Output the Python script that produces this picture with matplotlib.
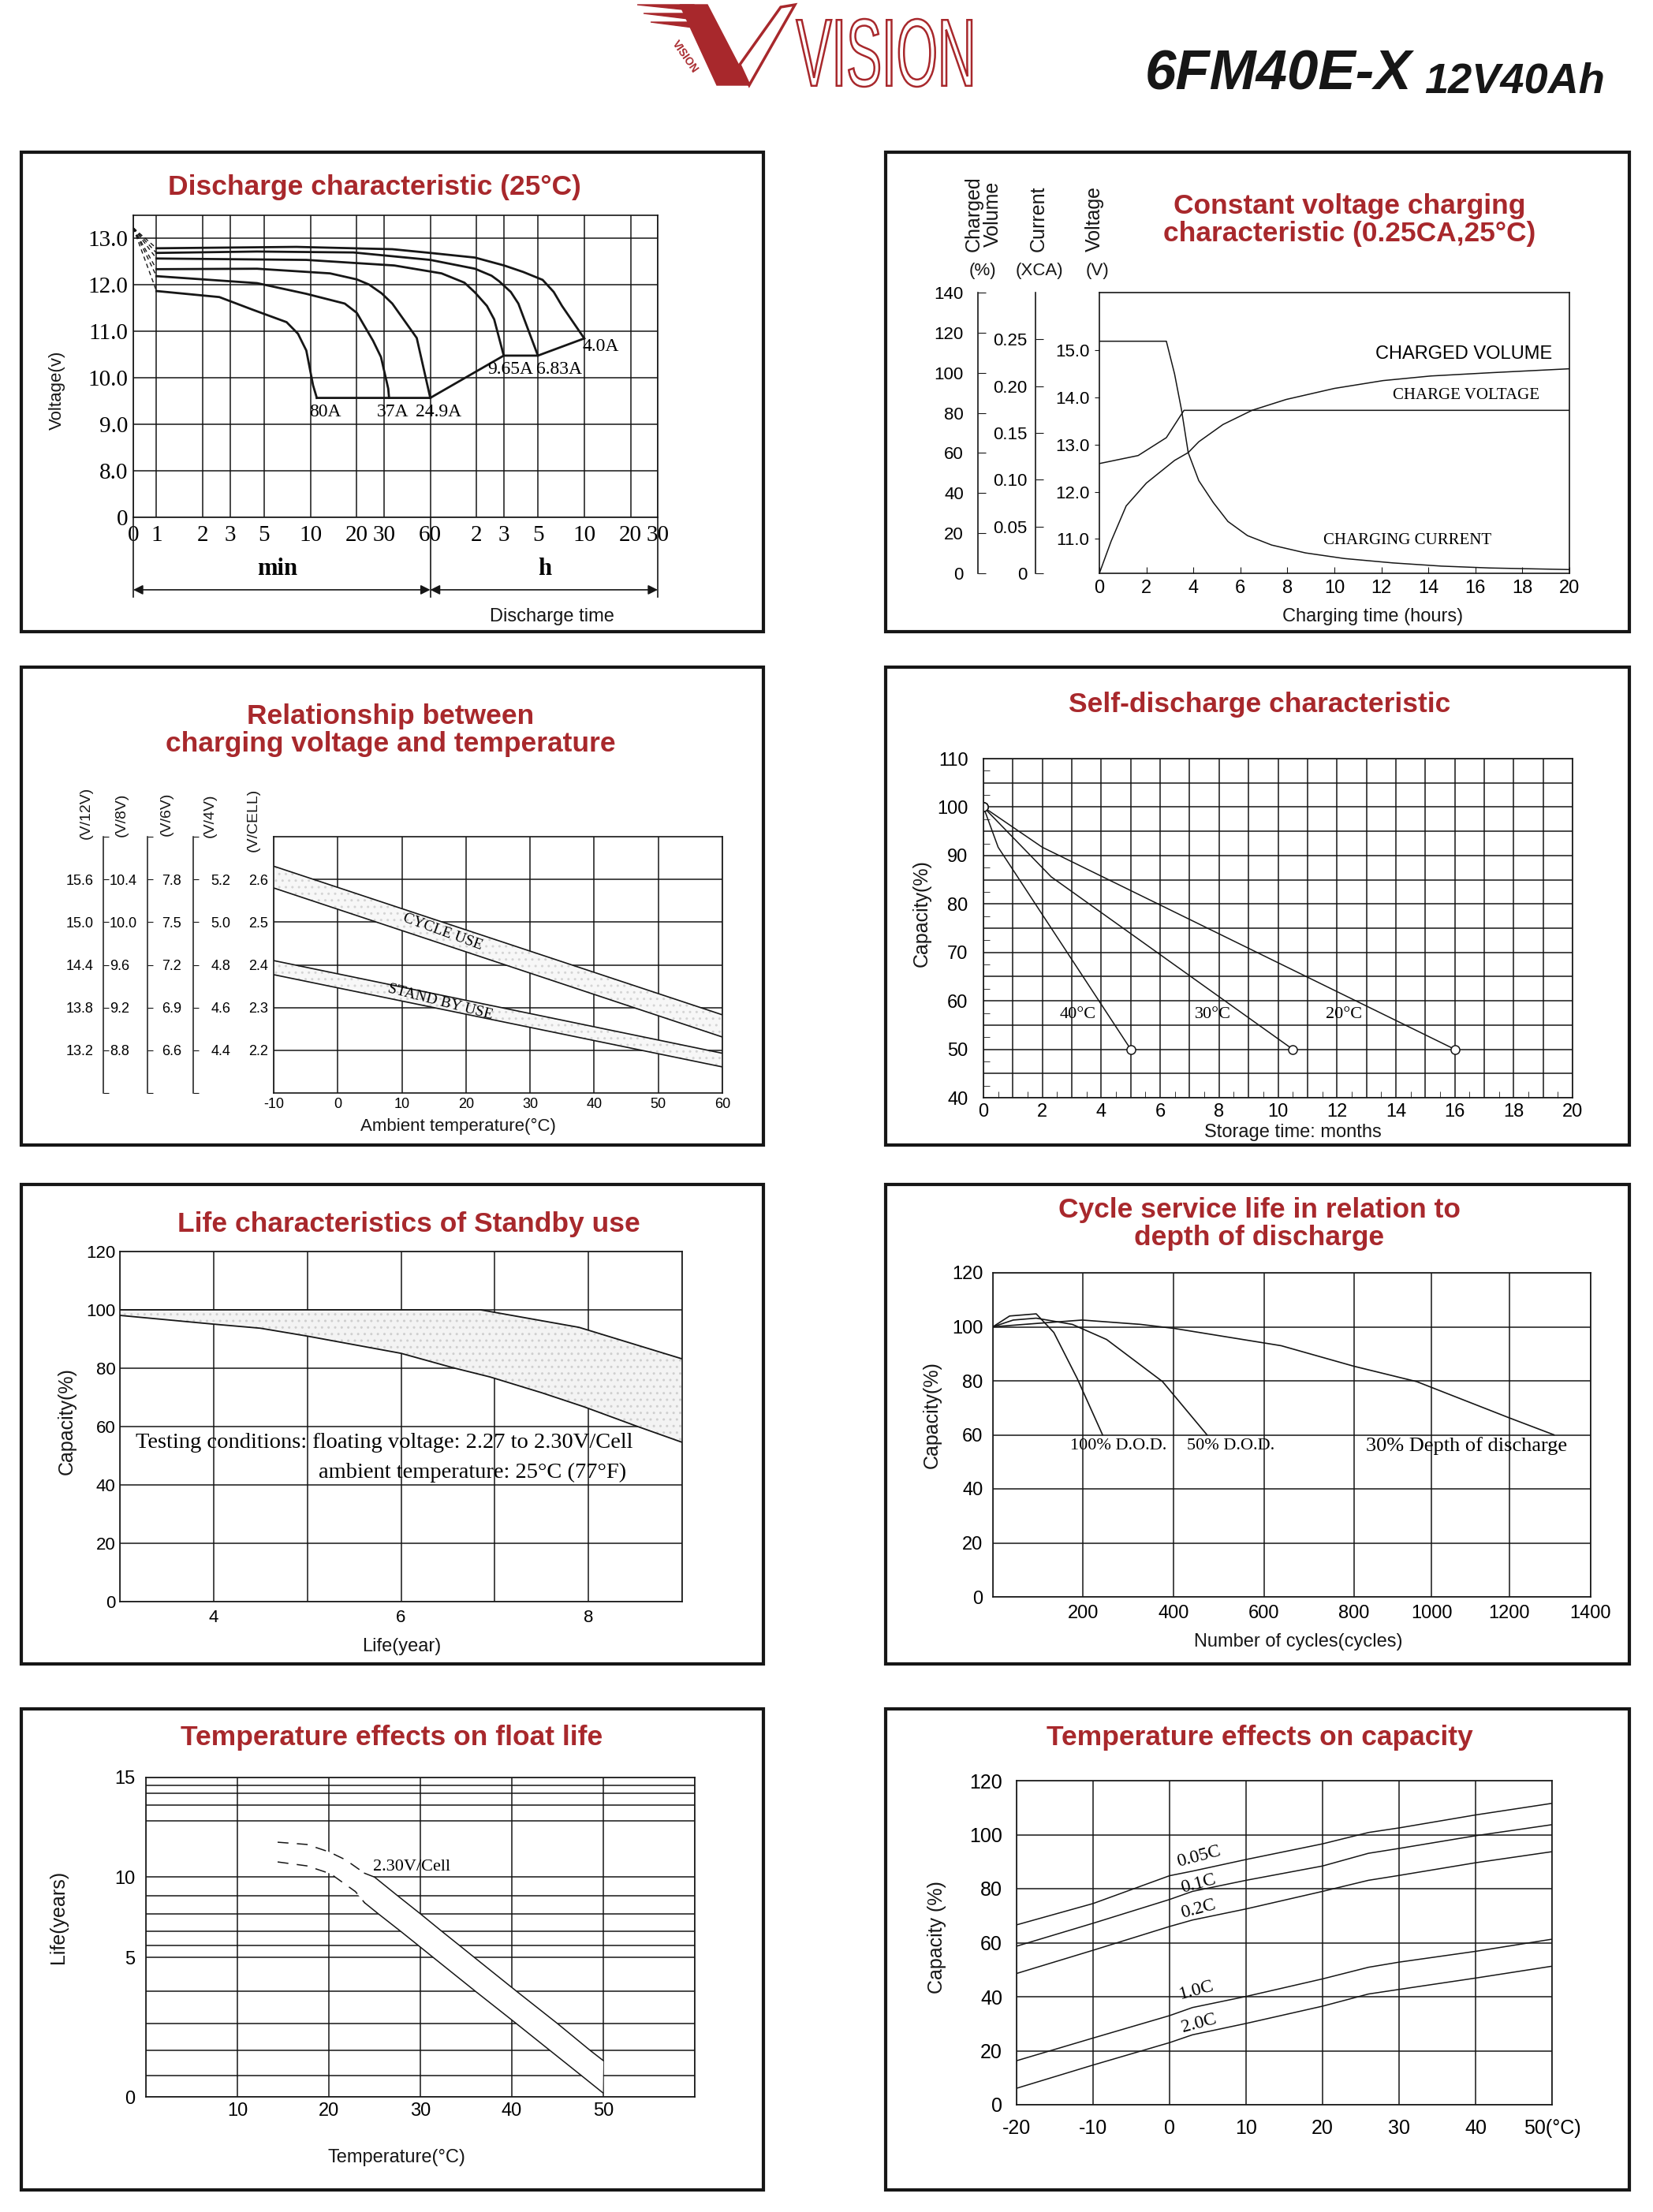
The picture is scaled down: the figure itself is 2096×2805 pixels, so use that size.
import numpy as np
import matplotlib
matplotlib.use('Agg')
import matplotlib.pyplot as plt
from matplotlib import font_manager
from matplotlib.patches import Rectangle, Polygon, PathPatch
from matplotlib.textpath import TextPath
from matplotlib.font_manager import FontProperties
from matplotlib.transforms import Affine2D

W, H = 2096, 2805
RED = '#a8282c'
INK = '#161616'
_fonts = {f.name for f in font_manager.fontManager.ttflist}
NARROW = 'Liberation Sans Narrow' if 'Liberation Sans Narrow' in _fonts else 'Liberation Sans'
SANS = 'Liberation Sans'
SERIF = 'Liberation Serif'
plt.rcParams['font.family'] = [NARROW, 'DejaVu Sans']
plt.rcParams['hatch.linewidth'] = 1.0
plt.rcParams['axes.unicode_minus'] = False

# ---------------- data ----------------
# discharge characteristic (time in minutes, voltage)
disc_names = ['80A', '37A', '24.9A', '9.65A', '6.83A', '4.0A']
disc_t = [
    [1, 2.56, 4.2, 7.0, 8.3, 9.4, 10.4, 11.0],
    [1, 4.5, 9.4, 16.7, 20, 22.3, 25.5, 28.7, 32.0, 32.4],
    [1, 4.5, 13.4, 20, 24, 29, 34, 49, 60],
    [1, 9.4, 35, 71, 100, 117, 140, 156, 180],
    [1, 4.5, 19, 60, 117, 150, 168, 200, 224, 300],
    [1, 8.1, 34, 60, 117, 181, 241, 322, 380, 430, 600],
]
disc_v = [
    [11.87, 11.74, 11.47, 11.2, 10.95, 10.59, 9.84, 9.57],
    [12.19, 12.04, 11.81, 11.6, 11.4, 11.13, 10.8, 10.45, 9.77, 9.57],
    [12.34, 12.35, 12.25, 12.12, 12.01, 11.82, 11.6, 10.86, 9.57],
    [12.57, 12.54, 12.42, 12.25, 12.05, 11.84, 11.55, 11.26, 10.48],
    [12.69, 12.72, 12.70, 12.54, 12.35, 12.2, 12.08, 11.85, 11.6, 10.48],
    [12.79, 12.82, 12.77, 12.69, 12.59, 12.42, 12.28, 12.11, 11.85, 11.55, 10.85],
]
disc_label_t = [12.5, 34.4, 68, 200, 410, 765]
disc_label_v = [9.26, 9.26, 9.26, 10.18, 10.18, 10.67]
end_t = [11.0, 60, 180, 300, 600]
end_v = [9.57, 9.57, 10.48, 10.48, 10.85]
disc_start_t, disc_start_v = 0.707, 13.23
disc_xtick_pos = [0.707, 1, 2, 3, 5, 10, 20, 30, 60, 120, 180, 300, 600, 1200, 1800]
disc_xtick_lab = ['0', '1', '2', '3', '5', '10', '20', '30', '60', '2', '3', '5', '10', '20', '30']
disc_ytick_pos = [0, 8, 9, 10, 11, 12, 13]
disc_ytick_lab = ['0', '8.0', '9.0', '10.0', '11.0', '12.0', '13.0']

# constant voltage charging
chg_cur_t = [0, 2.85, 3.2, 3.5, 3.78, 4.23, 4.85, 5.47, 6.3, 7.33, 8.77, 10.42, 12.49, 14.55, 16.6, 20]
chg_cur = [0.248, 0.248, 0.213, 0.174, 0.129, 0.099, 0.0755, 0.0554, 0.0403, 0.0302,
           0.0218, 0.0158, 0.0111, 0.0077, 0.0057, 0.004]
chg_volt_t = [0, 1.65, 2.85, 3.6, 20]
chg_volt = [12.6, 12.77, 13.15, 13.73, 13.73]
chg_vol_t = [0, 0.5, 1.14, 2.0, 3.2, 3.78, 4.23, 5.26, 6.5, 7.95, 10, 12.07, 14.1, 16.6, 20]
chg_vol = [0, 16, 33.6, 45, 56.3, 60.2, 65.6, 74.2, 81.3, 86.7, 92.2, 96.1, 98.4, 100, 102]

# charging voltage vs temperature (V/cell)
temp_x = [-10, 60]
cycle_hi = [2.631, 2.283]
cycle_lo = [2.580, 2.231]
stand_hi = [2.410, 2.193]
stand_lo = [2.377, 2.161]
cell_ticks = [2.2, 2.3, 2.4, 2.5, 2.6]
pack_mult = [6, 4, 3, 2]
pack_names = ['(V/12V)', '(V/8V)', '(V/6V)', '(V/4V)']

# self discharge
sd_names = ['40°C', '30°C', '20°C']
sd_t = [[0, 0.5, 5.0], [0, 2.3, 10.5], [0, 2.0, 16.0]]
sd_c = [[100, 91.7, 50], [100, 85.6, 50], [100, 91.7, 50]]
sd_label_t = [3.2, 7.8, 12.25]

# standby life
life_up_x = [3, 6.85, 7.9, 9]
life_up_y = [100, 100, 94, 83.2]
life_lo_x = [3, 4, 4.5, 5, 6, 6.55, 6.95, 7.5, 7.95, 8.5, 9]
life_lo_y = [98.1, 95.1, 93.7, 91, 85.1, 80.2, 77, 71.6, 66.8, 60.3, 54.6]

# cycle life
cyc_scale_vals = [0, 200, 400, 600, 800, 1000, 1200, 1400]
cyc_scale_pos = [0, 186, 372, 559, 744, 904, 1064, 1232]
dod_names = ['100% D.O.D.', '50% D.O.D.', '30% Depth of discharge']
dod_x = [[0, 37, 96, 135, 187, 243],
         [0, 45, 96, 176, 252, 376, 474],
         [0, 101, 198, 327, 402, 638, 800, 962, 1200, 1310]]
dod_y = [[100, 104.0, 104.8, 97.9, 80.8, 60],
         [100, 102.5, 103.2, 100.9, 95.3, 79.7, 60],
         [100, 101.3, 102.5, 100.9, 99.4, 93, 85.4, 79.7, 66.3, 60]]
dod_label_x = [171, 429, 831]
dod_label_size = [16, 16, 19]

# float life vs temperature
float_vals = list(range(16))
float_pos = [0, 67, 145, 230, 332, 438, 475, 521, 575, 632, 690, 867, 917, 953, 977, 1003]
up_dash_t = [14.4, 17.6, 20.0, 21.8, 23.9]
up_dash_y = [10.62, 10.58, 10.45, 10.31, 10.07]
up_solid_t = [23.9, 25, 27.5, 30, 32.3, 34.3, 35.9, 40.5, 45, 48.6, 50]
up_solid_y = [10.07, 10, 9, 8, 7, 6, 5, 4, 3, 2, 1.6]
lo_dash_t = [14.4, 17.6, 20.2, 20.7, 22.9, 23.9]
lo_dash_y = [10.27, 10.2, 10.06, 10.0, 9.22, 8.61]
lo_solid_t = [23.9, 25.4, 27.8, 29.8, 31.4, 36.0, 40.5, 44.2, 47.6, 49.95]
lo_solid_y = [8.61, 8, 7, 6, 5, 4, 3, 2, 1, 0.19]

# capacity vs temperature
cap_t = [-20, -10, 0, 3, 10, 20, 26, 30, 40, 50]
cap_names = ['0.05C', '0.1C', '0.2C', '1.0C', '2.0C']
cap_vals = [
    [66.6, 74.5, 84.8, 86.5, 90.8, 96.6, 100.8, 102.5, 107.3, 111.6],
    [58.7, 67.2, 76.0, 79.0, 83.1, 88.4, 93.1, 94.9, 99.6, 103.7],
    [48.6, 57.2, 66.0, 68.4, 72.5, 79.0, 83.1, 84.9, 89.6, 93.7],
    [16.3, 24.7, 33.0, 36.0, 40.1, 46.6, 50.9, 52.8, 56.8, 61.3],
    [6.1, 14.7, 23.0, 25.9, 30.1, 36.5, 41.0, 42.7, 46.9, 51.3],
]
cap_label_t = [3.8, 3.8, 3.8, 3.5, 3.8]
cap_label_y = [91.9, 81.9, 72.5, 42.4, 30.0]

# ---------------- helpers ----------------
fig = plt.figure(figsize=(W / 100, H / 100), dpi=100)


def px_axes(x0, y0, x1, y1):
    ax = fig.add_axes([x0 / W, 1 - y1 / H, (x1 - x0) / W, (y1 - y0) / H])
    for s in ax.spines.values():
        s.set_color(INK)
        s.set_linewidth(1.2)
    ax.set_axisbelow(True)
    return ax


def frame(x0, y0, x1, y1):
    fig.add_artist(Rectangle((x0 / W, 1 - y1 / H), (x1 - x0) / W, (y1 - y0) / H,
                             transform=fig.transFigure, fill=False, lw=3, ec=INK))


def ftext(x, y, s, **kw):
    kw.setdefault('ha', 'center')
    kw.setdefault('va', 'center')
    kw.setdefault('color', INK)
    fig.text(x / W, 1 - y / H, s, **kw)


def title(x, y, s):
    ftext(x, y, s, color=RED, fontsize=25.5, fontweight='bold', family=NARROW, linespacing=1.08)


def poly(pts, **kw):
    fig.add_artist(Polygon([(x / W, 1 - y / H) for x, y in pts], closed=True,
                           transform=fig.transFigure, **kw))


def grid(ax):
    ax.grid(True, color=INK, lw=1.1)


# ---------------- header ----------------
poly([(862, 6), (897, 6), (950, 108), (909, 108)], fc=RED, ec=RED)
poly([(808, 6), (880, 6), (884, 14)], fc=RED, ec=RED)
poly([(816, 17), (884, 17), (889, 26)], fc=RED, ec=RED)
poly([(825, 28), (889, 28), (894, 37)], fc=RED, ec=RED)
poly([(938, 82), (990, 9), (1008, 6), (950, 108)], fill=False, ec=RED, lw=2.5)
ftext(869, 72, 'VISION', rotation=-55, color=RED, fontsize=10, fontweight='bold', family=SANS)
tp = TextPath((0, 0), 'VISION', size=100, prop=FontProperties(family=NARROW))
ext = tp.get_extents()
tr = (Affine2D().translate(-ext.x0, -ext.y0)
      .scale((1232 - 1010) / ext.width / W, (110 - 24) / ext.height / H)
      .translate(1010 / W, 1 - 110 / H) + fig.transFigure)
fig.add_artist(PathPatch(tp, transform=tr, fc='white', ec=RED, lw=1.8))
ftext(1452, 114, '6FM40E-X', ha='left', va='baseline', fontsize=51, fontweight='bold',
      style='italic', family=SANS)
ftext(1806, 118, '12V40Ah', ha='left', va='baseline', fontsize=39, fontweight='bold',
      style='italic', family=SANS)

# ---------------- 1. discharge characteristic ----------------
frame(27, 193, 968, 801)
title(475, 238, 'Discharge characteristic (25°C)')
ax = px_axes(169, 273, 834, 656)
ax.set_xscale('log')
ax.set_yscale('function', functions=(lambda v: np.interp(v, [0, 8, 14], [0, 1, 7]),
                                     lambda p: np.interp(p, [0, 1, 7], [0, 8, 14])))
ax.set_xlim(disc_xtick_pos[0], disc_xtick_pos[-1])
ax.set_ylim(0, 13.5)
ax.set_xticks(disc_xtick_pos, disc_xtick_lab, fontfamily=SERIF, fontsize=21)
ax.set_xticks([], minor=True)
ax.set_yticks(disc_ytick_pos, disc_ytick_lab, fontfamily=SERIF, fontsize=21)
ax.set_yticks([], minor=True)
ax.tick_params(axis='both', length=0)
ax.tick_params(axis='x', pad=7)
ax.tick_params(axis='y', pad=5)
grid(ax)
for t, v in zip(disc_t, disc_v):
    ax.plot(t, v, color=INK, lw=2)
    ax.plot([disc_start_t, t[0]], [disc_start_v, v[0]], color=INK, lw=1.0, ls=(0, (4, 3)))
ax.plot(end_t, end_v, color=INK, lw=2)
for name, lt, lv in zip(disc_names, disc_label_t, disc_label_v):
    ax.text(lt, lv, name, fontfamily=SERIF, fontsize=17, ha='center', va='center')
xt = ax.get_xaxis_transform()
for t in [disc_xtick_pos[0], 60, disc_xtick_pos[-1]]:
    ax.plot([t, t], [0, -0.265], transform=xt, clip_on=False, color=INK, lw=1.2)
for a, b in [(disc_xtick_pos[0], 60), (60, disc_xtick_pos[-1])]:
    ax.annotate('', xy=(b, -0.24), xytext=(a, -0.24), xycoords=xt, textcoords=xt,
                arrowprops=dict(arrowstyle='<|-|>', color=INK, lw=1.2, mutation_scale=18,
                                shrinkA=0, shrinkB=0))
ax.text(6.1, -0.17, 'min', transform=xt, ha='center', va='center', fontfamily=SERIF,
        fontsize=22, fontweight='bold')
ax.text(333, -0.17, 'h', transform=xt, ha='center', va='center', fontfamily=SERIF,
        fontsize=22, fontweight='bold')
ftext(72, 495, 'Voltage(v)', rotation=90, family=SANS, fontsize=16)
ftext(700, 782, 'Discharge time', fontsize=17)

# ---------------- 2. constant voltage charging ----------------
frame(1123, 193, 2066, 801)
title(1711, 279, 'Constant voltage charging\ncharacteristic (0.25CA,25°C)')
ax = px_axes(1394, 371, 1990, 727)
ax.set_xlim(0, 20)
ax.set_ylim(10.27, 16.23)
ax.set_xticks(range(0, 21, 2))
ax.set_yticks([11, 12, 13, 14, 15], ['11.0', '12.0', '13.0', '14.0', '15.0'])
ax.tick_params(axis='x', direction='in', length=6, labelsize=17, pad=6, color=INK)
ax.tick_params(axis='y', direction='out', length=4, labelsize=16, pad=5, color=INK)
axv = ax.twinx()
axc = ax.twinx()
for a, off, lim, ticks, labs, pad in [
        (axv, 111, (0, 140), list(range(0, 141, 20)), [str(v) for v in range(0, 141, 20)], 13),
        (axc, 58, (0, 0.30), [0, 0.05, 0.10, 0.15, 0.20, 0.25],
         ['0', '0.05', '0.10', '0.15', '0.20', '0.25'], 8)]:
    a.set_ylim(lim)
    a.yaxis.tick_left()
    a.spines['left'].set_position(('outward', off))
    for s in ['right', 'top', 'bottom']:
        a.spines[s].set_visible(False)
    a.spines['left'].set_visible(True)
    a.spines['left'].set_color(INK)
    a.spines['left'].set_linewidth(1.2)
    a.set_yticks(ticks, labs)
    a.tick_params(axis='y', direction='in', length=7, labelsize=16, pad=pad, color=INK)
axc.plot(chg_cur_t, chg_cur, color=INK, lw=1.1)
ax.plot(chg_volt_t, chg_volt, color=INK, lw=1.1)
axv.plot(chg_vol_t, chg_vol, color=INK, lw=1.1)
ax.text(15.5, 14.93, 'CHARGED VOLUME', fontfamily=NARROW, fontsize=17, ha='center', va='center')
ax.text(15.6, 14.05, 'CHARGE VOLTAGE', fontfamily=SERIF, fontsize=15, ha='center', va='center')
ax.text(13.1, 10.97, 'CHARGING CURRENT', fontfamily=SERIF, fontsize=15, ha='center', va='center')
ftext(1247, 319, 'Charged\nVolume', rotation=90, va='bottom', family=SANS, fontsize=18,
      linespacing=1.0)
ftext(1317, 319, 'Current', rotation=90, va='bottom', family=SANS, fontsize=18)
ftext(1388, 319, 'Voltage', rotation=90, va='bottom', family=SANS, fontsize=18)
ftext(1246, 343, '(%)', family=SANS, fontsize=16)
ftext(1318, 343, '(XCA)', family=SANS, fontsize=16)
ftext(1391, 343, '(V)', family=SANS, fontsize=16)
ftext(1741, 782, 'Charging time (hours)', fontsize=17)

# ---------------- 3. charging voltage vs temperature ----------------
frame(27, 846, 968, 1452)
title(495, 926, 'Relationship between\ncharging voltage and temperature')
ax = px_axes(347, 1061, 916, 1386)
ax.set_xlim(-10, 60)
ax.set_ylim(2.1, 2.7)
ax.set_xticks(range(-10, 61, 10))
ax.set_yticks(cell_ticks, ['%.1f' % v for v in cell_ticks])
ax.tick_params(axis='both', length=0, labelsize=13)
ax.tick_params(axis='y', pad=5)
ax.tick_params(axis='x', pad=4)
grid(ax)
ax.fill_between(temp_x, cycle_lo, cycle_hi, facecolor='#f7f7f7', hatch='..',
                edgecolor='#d4d4d4', lw=0)
ax.fill_between(temp_x, stand_lo, stand_hi, facecolor='#f7f7f7', hatch='..',
                edgecolor='#d4d4d4', lw=0)
for yy in [cycle_hi, cycle_lo, stand_hi, stand_lo]:
    ax.plot(temp_x, yy, color=INK, lw=1.2)
ax.text(16.4, 2.477, 'CYCLE USE', rotation=-20, fontfamily=SERIF, fontsize=14,
        ha='center', va='center', rotation_mode='anchor')
ax.text(16.0, 2.313, 'STAND BY USE', rotation=-14.5, fontfamily=SERIF, fontsize=14,
        ha='center', va='center', rotation_mode='anchor')
spine_pos = [-0.380, -0.380, -0.281, -0.179]
for k, (m, sp) in enumerate(zip(pack_mult, spine_pos)):
    tw = ax.twinx()
    tw.set_ylim(2.1 * m, 2.7 * m)
    for s in tw.spines.values():
        s.set_visible(False)
    vals = [v * m for v in cell_ticks]
    if k == 0:
        tw.yaxis.tick_left()
        tw.spines['left'].set_position(('axes', sp))
        tw.set_yticks(vals, ['%.1f' % v for v in vals])
        tw.tick_params(axis='y', length=0, labelsize=13, pad=9)
    else:
        tw.spines['right'].set_position(('axes', sp))
        tw.spines['right'].set_visible(True)
        tw.spines['right'].set_color(INK)
        tw.spines['right'].set_linewidth(1.1)
        tw.set_yticks([2.1 * m] + vals + [2.7 * m], [''] + ['%.1f' % v for v in vals] + [''])
        tw.tick_params(axis='y', direction='out', length=5, labelsize=13,
                       pad=[1, 8, 11][k - 1], color=INK)
header_x = [109, 154, 211, 266]
header_y = [1064, 1061, 1060, 1062]
for name, hx, hy in zip(pack_names, header_x, header_y):
    ftext(hx, hy, name, rotation=90, va='bottom', family=SANS, fontsize=14)
ftext(321, 1080, '(V/CELL)', rotation=90, va='bottom', family=SANS, fontsize=14)
ftext(581, 1428, 'Ambient temperature(°C)', fontsize=16)

# ---------------- 4. self-discharge ----------------
frame(1123, 846, 2066, 1452)
title(1597, 894, 'Self-discharge characteristic')
ax = px_axes(1247, 962, 1994, 1392)
ax.set_xlim(0, 20)
ax.set_ylim(40, 110)
ax.set_xticks(range(0, 21), [str(v) if v % 2 == 0 else '' for v in range(0, 21)])
ax.set_yticks(range(40, 111, 5), [str(v) if v % 10 == 0 else '' for v in range(40, 111, 5)])
ax.set_xticks(np.arange(0.5, 20, 1), minor=True)
ax.set_yticks(np.arange(42.5, 110, 5), minor=True)
ax.tick_params(which='major', length=0, labelsize=17)
ax.tick_params(axis='y', which='major', pad=14)
ax.tick_params(axis='x', which='major', pad=5)
ax.tick_params(which='minor', direction='in', length=6, color=INK)
grid(ax)
for t, c, name, lt in zip(sd_t, sd_c, sd_names, sd_label_t):
    ax.plot(t, c, color=INK, lw=1.1)
    ax.plot([t[0], t[-1]], [c[0], c[-1]], 'o', mfc='white', mec=INK, ms=8, mew=1.1)
    ax.text(lt, 57.1, name, fontfamily=SERIF, fontsize=16, ha='center', va='center')
ftext(1169, 1158, 'Capacity(%)', rotation=90, family=SANS, fontsize=18)
ftext(1639, 1436, 'Storage time: months', fontsize=17)

# ---------------- 5. standby life ----------------
frame(27, 1502, 968, 2110)
title(518, 1552, 'Life characteristics of Standby use')
ax = px_axes(152, 1587, 865, 2031)
ax.set_xlim(3, 9)
ax.set_ylim(0, 120)
ax.set_xticks(range(3, 10), [str(v) if v % 2 == 0 else '' for v in range(3, 10)])
ax.set_yticks(range(0, 121, 20))
ax.tick_params(length=0, labelsize=16)
ax.tick_params(axis='y', pad=4)
ax.tick_params(axis='x', pad=7)
grid(ax)
ax.fill(np.r_[life_up_x, life_lo_x[::-1]], np.r_[life_up_y, life_lo_y[::-1]],
        facecolor='#f3f3f3', hatch='..', edgecolor='#cfcfcf', lw=0)
ax.plot(life_up_x, life_up_y, color=INK, lw=1.3)
ax.plot(life_lo_x, life_lo_y, color=INK, lw=1.3)
ax.text(3.17, 54.4, 'Testing conditions: floating voltage: 2.27 to 2.30V/Cell',
        fontfamily=SERIF, fontsize=20.5, ha='left', va='center')
ax.text(5.12, 44.2, 'ambient temperature: 25°C (77°F)',
        fontfamily=SERIF, fontsize=20.5, ha='left', va='center')
ftext(85, 1802, 'Capacity(%)', rotation=90, family=SANS, fontsize=18)
ftext(509, 2088, 'Life(year)', fontsize=17)

# ---------------- 6. cycle life ----------------
frame(1123, 1502, 2066, 2110)
title(1597, 1552, 'Cycle service life in relation to\ndepth of discharge')
ax = px_axes(1259, 1614, 2017, 2025)
ax.set_xscale('function', functions=(lambda v: np.interp(v, cyc_scale_vals, cyc_scale_pos),
                                     lambda p: np.interp(p, cyc_scale_pos, cyc_scale_vals)))
ax.set_xlim(0, 1400)
ax.set_ylim(0, 120)
ax.set_xticks(cyc_scale_vals, [''] + [str(v) for v in cyc_scale_vals[1:]])
ax.set_xticks([], minor=True)
ax.set_yticks(range(0, 121, 20))
ax.tick_params(length=0, labelsize=17)
ax.tick_params(axis='y', pad=9)
ax.tick_params(axis='x', pad=7)
grid(ax)
for x, y, name, lx, fs in zip(dod_x, dod_y, dod_names, dod_label_x, dod_label_size):
    ax.plot(x, y, color=INK, lw=1.2)
    ax.text(lx, 56, name, fontfamily=SERIF, fontsize=fs, ha='left', va='center')
ftext(1182, 1794, 'Capacity(%)', rotation=90, family=SANS, fontsize=18)
ftext(1646, 2082, 'Number of cycles(cycles)', fontsize=17)

# ---------------- 7. float life vs temperature ----------------
frame(27, 2167, 968, 2777)
title(497, 2204, 'Temperature effects on float life')
ax = px_axes(185, 2254, 881, 2659)
ax.set_yscale('function', functions=(lambda v: np.interp(v, float_vals, float_pos),
                                     lambda p: np.interp(p, float_pos, float_vals)))
ax.set_xlim(0, 60)
ax.set_ylim(0, 15)
ax.set_xticks(range(0, 61, 10), ['', '10', '20', '30', '40', '50', ''])
ax.set_yticks(float_vals, [str(v) if v % 5 == 0 else '' for v in float_vals])
ax.set_yticks([], minor=True)
ax.tick_params(length=0, labelsize=17)
ax.tick_params(axis='y', pad=10)
ax.tick_params(axis='x', pad=5)
grid(ax)
band_t = up_dash_t + up_solid_t + lo_solid_t[::-1] + lo_dash_t[::-1]
band_y = up_dash_y + up_solid_y + lo_solid_y[::-1] + lo_dash_y[::-1]
ax.fill(band_t, band_y, color='white', lw=0, zorder=1.5)
ax.plot(up_dash_t, up_dash_y, color=INK, lw=1.1, ls=(0, (9, 7)), zorder=2)
ax.plot(lo_dash_t, lo_dash_y, color=INK, lw=1.1, ls=(0, (9, 7)), zorder=2)
ax.plot(up_solid_t, up_solid_y, color=INK, lw=1.1, zorder=2)
ax.plot(lo_solid_t, lo_solid_y, color=INK, lw=1.1, zorder=2)
ax.text(24.8, 10.18, '2.30V/Cell', fontfamily=SERIF, fontsize=16, ha='left', va='center')
ftext(74, 2431, 'Life(years)', rotation=90, family=SANS, fontsize=18)
ftext(503, 2736, 'Temperature(°C)', fontsize=17)

# ---------------- 8. capacity vs temperature ----------------
frame(1123, 2167, 2066, 2777)
title(1597, 2204, 'Temperature effects on capacity')
ax = px_axes(1289, 2258, 1968, 2669)
ax.set_xlim(-20, 50)
ax.set_ylim(0, 120)
ax.set_xticks(range(-20, 51, 10), [str(v) for v in range(-20, 41, 10)] + ['50(°C)'])
ax.set_yticks(range(0, 121, 20))
ax.tick_params(length=0, labelsize=18)
ax.tick_params(axis='y', pad=13)
ax.tick_params(axis='x', pad=13)
grid(ax)
for vals, name, lt, ly in zip(cap_vals, cap_names, cap_label_t, cap_label_y):
    ax.plot(cap_t, vals, color=INK, lw=1.1)
    ax.text(lt, ly, name, fontfamily=SERIF, fontsize=17, rotation=15, ha='center',
            va='center', rotation_mode='anchor')
ftext(1188, 2457, 'Capacity (%)', rotation=90, family=SANS, fontsize=18)

fig.savefig('out.png', dpi=100, facecolor='white')
